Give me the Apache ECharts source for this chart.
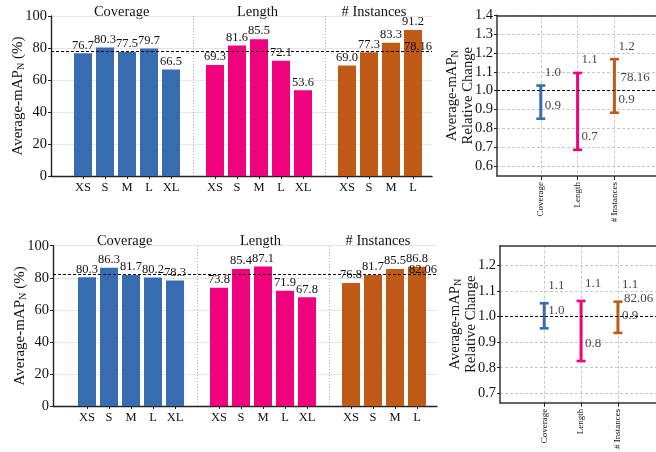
<!DOCTYPE html>
<html><head><meta charset="utf-8">
<script src="https://cdn.jsdelivr.net/npm/echarts@6/dist/echarts.min.js"></script>
<style>html,body{margin:0;padding:0;background:#fff}#c{width:656px;height:452px}</style>
</head><body><div id="c"></div>
<script>
// ---------------- data ----------------
const sizeLabels = ['XS', 'S', 'M', 'L', 'XL'];
const groupNames = ['Coverage', 'Length', '# Instances'];
const groupColors = ['#386cb0', '#f0027f', '#bf5b17'];

// top row
const topCoverage = [76.7, 80.3, 77.5, 79.7, 66.5];
const topLength = [69.3, 81.6, 85.5, 72.1, 53.6];
const topInstances = [69.0, 77.3, 83.3, 91.2];
const topMean = 78.16;
const topRelLow = [0.851, 0.686, 0.883];
const topRelHigh = [1.027, 1.094, 1.167];
const topRelTicks = [0.6, 0.7, 0.8, 0.9, 1.0, 1.1, 1.2, 1.3, 1.4];

// bottom row
const botCoverage = [80.3, 86.3, 81.7, 80.2, 78.3];
const botLength = [73.8, 85.4, 87.1, 71.9, 67.8];
const botInstances = [76.8, 81.7, 85.5, 86.8];
const botMean = 82.06;
const botRelLow = [0.954, 0.826, 0.936];
const botRelHigh = [1.052, 1.061, 1.058];
const botRelTicks = [0.7, 0.8, 0.9, 1.0, 1.1, 1.2];

const barYTicks = [0, 20, 40, 60, 80, 100];
const relIndex = [0, 1, 2];

// ---------------- style ----------------
const FONT = 'Liberation Serif';
const TXT = '#111';
const AX = '#222';

const chart = echarts.init(document.getElementById('c'), null, {renderer: 'canvas'});

function buildCats(groups) {
  const cats = [], items = [], seps = [];
  groups.forEach((vals, g) => {
    if (g > 0) { seps.push(cats.length); cats.push(''); items.push('-'); }
    vals.forEach((v, i) => {
      cats.push(sizeLabels[i]);
      items.push({value: v, itemStyle: {color: groupColors[g]}});
    });
  });
  return {cats, items, seps};
}

const grids = [], xAxes = [], yAxes = [], series = [];

function yName(fs) {
  return {
    fontFamily: FONT, color: TXT, fontSize: fs,
    rich: {
      a: {fontFamily: FONT, fontSize: fs, color: TXT, lineHeight: fs + 1},
      s: {fontFamily: FONT, fontSize: fs * 0.68, color: TXT, verticalAlign: 'bottom', lineHeight: fs + 1}
    }
  };
}

function addBarChart(cfg) {
  const {cats, items, seps} = buildCats(cfg.groups);
  const gFull = grids.length;
  grids.push({left: cfg.axisLeft, right: 656 - cfg.axisRight, top: cfg.top, bottom: 452 - cfg.bottom, containLabel: false});
  const gBar = grids.length;
  grids.push({left: cfg.slotLeft, right: 656 - cfg.slotRight, top: cfg.top, bottom: 452 - cfg.bottom, containLabel: false});

  const xFull = xAxes.length;
  xAxes.push({gridIndex: gFull, type: 'value', min: 0, max: 1,
    axisLine: {show: true, onZero: false, lineStyle: {color: AX, width: 1.4}},
    axisTick: {show: false}, axisLabel: {show: false}, splitLine: {show: false}});
  const xBar = xAxes.length;
  xAxes.push({gridIndex: gBar, type: 'category', data: cats, boundaryGap: true,
    axisLine: {show: false},
    axisTick: {show: true, alignWithLabel: true, length: 3, lineStyle: {color: AX},
      interval: (i, v) => v !== ''},
    axisLabel: {interval: 0, margin: 5, fontFamily: FONT, fontSize: 12.5, color: TXT},
    splitLine: {show: false}});

  const yFull = yAxes.length;
  yAxes.push({gridIndex: gFull, type: 'value', min: barYTicks[0], max: barYTicks[barYTicks.length - 1], interval: 20,
    name: '{a|Average-mAP}{s|N}{a| (%)}', nameLocation: 'middle', nameRotate: 90, nameGap: 25,
    nameMoveOverlap: false,
    nameTextStyle: yName(15),
    axisLine: {show: true, lineStyle: {color: AX, width: 1.4}},
    axisTick: {show: true, length: 3, lineStyle: {color: AX}},
    axisLabel: {margin: 4, fontFamily: FONT, fontSize: 14.5, color: TXT},
    splitLine: {show: true, lineStyle: {color: '#e6e6e6', width: 1}}});
  const yBar = yAxes.length;
  yAxes.push({gridIndex: gBar, type: 'value', min: 0, max: 100, show: false});

  series.push({
    type: 'bar', xAxisIndex: xBar, yAxisIndex: yBar, data: items, barWidth: 18,
    label: {show: true, position: 'top', distance: 1.5, fontFamily: FONT, fontSize: 12.5, color: TXT,
      formatter: p => Number(p.value).toFixed(1)},
    markLine: {silent: true, symbol: 'none', label: {show: false},
      lineStyle: {color: '#aaa', type: [1, 2], width: 1},
      data: seps.map(s => ({xAxis: s}))}
  });
  series.push({
    type: 'scatter', xAxisIndex: xFull, yAxisIndex: yFull, data: [[0, cfg.mean]], symbolSize: 0, silent: true,
    itemStyle: {color: 'rgba(0,0,0,0)'},
    markLine: {silent: true, symbol: 'none',
      lineStyle: {color: '#000', type: [3, 2], width: 1},
      label: {show: true, position: 'insideEndTop', distance: [0, -2], fontFamily: FONT, fontSize: 12.5, color: TXT,
        formatter: () => cfg.mean.toFixed(2)},
      data: [{yAxis: cfg.mean}]}
  });
}

function addRelChart(cfg) {
  const g = grids.length;
  grids.push({left: cfg.left, right: 0, top: cfg.top, bottom: 452 - cfg.bottom, containLabel: false});
  const boxLine = {show: true, onZero: false, lineStyle: {color: '#333', width: 1.5}};
  const xi = xAxes.length;
  xAxes.push({gridIndex: g, type: 'value', position: 'bottom', min: cfg.xmin, max: cfg.xmax,
    axisLine: boxLine,
    axisTick: {show: true, length: 4, customValues: relIndex, lineStyle: {color: AX}},
    axisLabel: {customValues: relIndex, rotate: 90, margin: 6, fontFamily: FONT, fontSize: 9, color: TXT,
      formatter: v => groupNames[Math.round(v)]},
    splitLine: {show: true, lineStyle: {color: '#c8c8c8', type: [3, 2], width: 1}}});
  xAxes.push({gridIndex: g, type: 'value', position: 'top', min: cfg.xmin, max: cfg.xmax,
    axisLine: boxLine, axisTick: {show: false}, axisLabel: {show: false}, splitLine: {show: false}});
  const yi = yAxes.length;
  yAxes.push({gridIndex: g, type: 'value', min: cfg.ymin, max: cfg.ymax,
    name: '{a|Average-mAP}{s|N}\n{a|Relative Change}', nameLocation: 'middle', nameRotate: 90, nameGap: 21,
    nameMoveOverlap: false,
    nameTextStyle: yName(14.7),
    axisLine: boxLine,
    axisTick: {show: true, length: 3, customValues: cfg.ticks, lineStyle: {color: AX}},
    axisLabel: {customValues: cfg.ticks, margin: 4, fontFamily: FONT, fontSize: 14.5, color: TXT,
      formatter: v => v.toFixed(1)},
    splitLine: {show: true, lineStyle: {color: '#c8c8c8', type: [3, 2], width: 1}}});

  series.push({
    type: 'custom', xAxisIndex: xi, yAxisIndex: yi,
    data: relIndex.map(i => [i, cfg.low[i], cfg.high[i]]),
    renderItem: (params, api) => {
      const x = api.value(0);
      const lo = api.coord([x, api.value(1)]);
      const hi = api.coord([x, api.value(2)]);
      const c = groupColors[params.dataIndex];
      const w = 4.5;
      return {type: 'group', children: [
        {type: 'line', shape: {x1: lo[0], y1: lo[1], x2: hi[0], y2: hi[1]}, style: {stroke: c, lineWidth: 3}},
        {type: 'line', shape: {x1: lo[0] - w, y1: lo[1], x2: lo[0] + w, y2: lo[1]}, style: {stroke: c, lineWidth: 2.6}},
        {type: 'line', shape: {x1: hi[0] - w, y1: hi[1], x2: hi[0] + w, y2: hi[1]}, style: {stroke: c, lineWidth: 2.6}}
      ]};
    },
    markLine: {silent: true, symbol: 'none', label: {show: false},
      lineStyle: {color: '#000', type: [3, 2], width: 1},
      data: [{yAxis: 1.0}]},
    z: 3
  });
  const lab = {show: true, position: 'right', distance: 4, offset: [0, cfg.labDy],
    fontFamily: FONT, fontSize: 13, color: TXT, formatter: p => p.value[1].toFixed(1)};
  series.push({type: 'scatter', xAxisIndex: xi, yAxisIndex: yi, symbolSize: 0, silent: true,
    itemStyle: {color: 'rgba(0,0,0,0)'}, label: lab,
    data: relIndex.map(i => [i, cfg.high[i]])});
  series.push({type: 'scatter', xAxisIndex: xi, yAxisIndex: yi, symbolSize: 0, silent: true,
    itemStyle: {color: 'rgba(0,0,0,0)'}, label: lab,
    data: relIndex.map(i => [i, cfg.low[i]])});
  series.push({type: 'scatter', xAxisIndex: xi, yAxisIndex: yi, symbolSize: 0, silent: true,
    itemStyle: {color: 'rgba(0,0,0,0)'},
    label: {show: true, position: 'right', distance: cfg.meanDx, offset: [0, cfg.labDy],
      fontFamily: FONT, fontSize: 13, color: TXT, formatter: () => cfg.mean.toFixed(2)},
    data: [[2, 1.0]]});
}

addBarChart({groups: [topCoverage, topLength, topInstances], mean: topMean,
  axisLeft: 51, axisRight: 432, slotLeft: 72, slotRight: 424, top: 16, bottom: 176});
addRelChart({low: topRelLow, high: topRelHigh, mean: topMean, ticks: topRelTicks,
  left: 497, top: 15.3, bottom: 176, xmin: -1.19, xmax: 3.13, ymin: 0.547, ymax: 1.4,
  labDy: -13, meanDx: 6});
addBarChart({groups: [botCoverage, botLength, botInstances], mean: botMean,
  axisLeft: 53, axisRight: 437, slotLeft: 76, slotRight: 428, top: 245.7, bottom: 406});
addRelChart({low: botRelLow, high: botRelHigh, mean: botMean, ticks: botRelTicks,
  left: 500, top: 245.7, bottom: 406, xmin: -1.2, xmax: 3.033, ymin: 0.663, ymax: 1.277,
  labDy: -17.5, meanDx: 6});

// group titles
const titlePos = [
  {x: [121.7, 257.5, 374], y: 12},
  {x: [124.7, 260.5, 378], y: 241}
];
const graphic = [];
titlePos.forEach(tp => groupNames.forEach((n, i) => graphic.push({
  type: 'text', x: tp.x[i], y: tp.y, silent: true,
  style: {text: n, align: 'center', verticalAlign: 'middle', fontFamily: FONT, fontSize: 14.5, fill: TXT}
})));

chart.setOption({
  backgroundColor: '#fff',
  animation: false,
  grid: grids, xAxis: xAxes, yAxis: yAxes, series: series, graphic: graphic
});
</script></body></html>
